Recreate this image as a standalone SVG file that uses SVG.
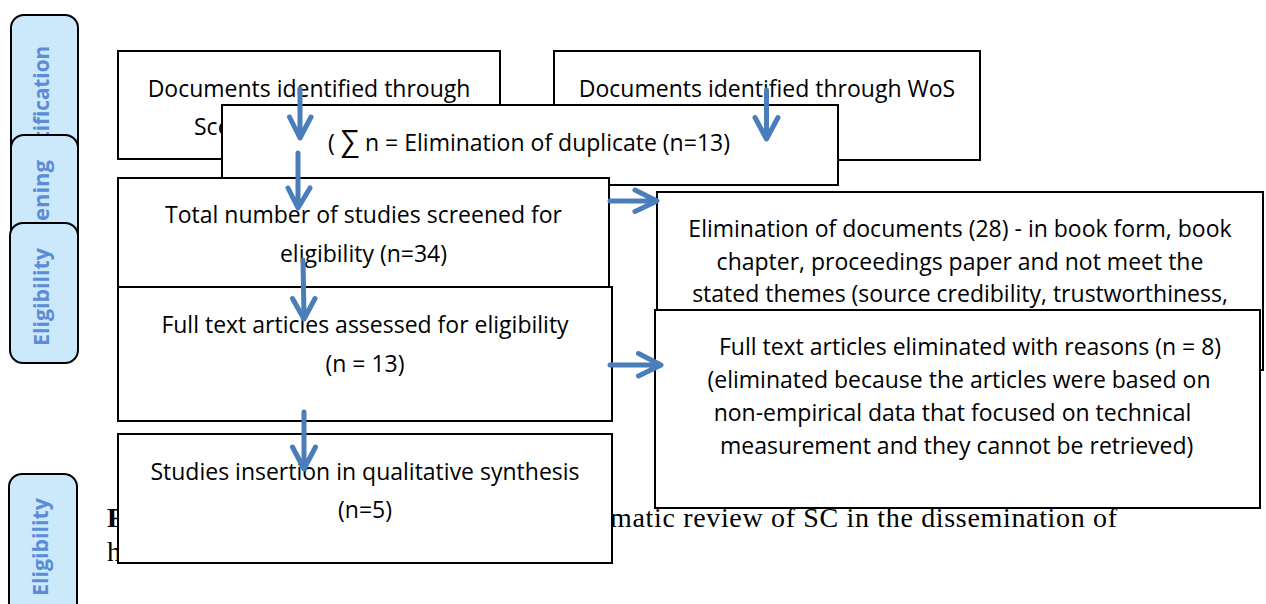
<svg xmlns="http://www.w3.org/2000/svg" width="1266" height="604" viewBox="0 0 1266 604">
<style>
.box{fill:#fff;stroke:#000;stroke-width:2}
.t{font-family:"Open Sans","DejaVu Sans",sans-serif;font-size:23px;fill:#000}
.m{text-anchor:middle}
.tab{fill:#CCE8FB;stroke:#000;stroke-width:2}
.tt{font-family:"Open Sans","DejaVu Sans",sans-serif;font-size:22px;font-weight:bold;fill:#5B8DD6;text-anchor:end}
.cap{font-family:"Liberation Serif","Times New Roman",serif;font-size:28px;fill:#000}
.arr{fill:none;stroke:#4A7EBB;stroke-width:5;stroke-linecap:round;stroke-linejoin:round}
</style>
<rect width="1266" height="604" fill="#fff"/>
<g id="tab-identification">
<rect class="tab" x="11" y="15" width="67" height="190" rx="13"/>
<text class="tt" transform="translate(49,46) rotate(-90)" textLength="140" lengthAdjust="spacingAndGlyphs">Identification</text>
</g>
<g id="tab-screening">
<rect class="tab" x="11" y="135" width="67" height="160" rx="13"/>
<text class="tt" transform="translate(49,160) rotate(-90)">Screening</text>
</g>
<g id="tab-eligibility">
<rect class="tab" x="10" y="223" width="68" height="140" rx="13"/>
<text class="tt" transform="translate(49,248) rotate(-90)" textLength="98" lengthAdjust="spacingAndGlyphs">Eligibility</text>
</g>
<g id="tab-eligibility-2">
<rect class="tab" x="9" y="474" width="68" height="150" rx="13"/>
<text class="tt" transform="translate(47.5,498) rotate(-90)" textLength="98" lengthAdjust="spacingAndGlyphs">Eligibility</text>
</g>
<g id="caption">
<text class="cap" x="107" y="527" font-weight="bold">F</text>
<text class="cap" x="610" y="527" textLength="507" lengthAdjust="spacing">matic review of SC in the dissemination of</text>
<text class="cap" x="107" y="561">h</text>
</g>
<g id="node-scopus">
<rect class="box" x="118" y="51" width="382" height="108"/>
<text class="t m" x="309" y="97">Documents identified through</text>
<text class="t" x="194" y="135">Sco</text>
</g>
<g id="node-wos">
<rect class="box" x="554" y="51" width="426" height="109"/>
<text class="t m" x="767" y="97">Documents identified through WoS</text>
</g>
<g id="node-duplicates">
<rect class="box" x="222" y="105" width="616" height="80"/>
<text class="t m" x="529" y="151">( <tspan font-size="29">∑</tspan> n = Elimination of duplicate (n=13)</text>
</g>
<g id="node-screened">
<rect class="box" x="118" y="178" width="491" height="110"/>
<text class="t m" x="363.5" y="223">Total number of studies screened for</text>
<text class="t m" x="363.5" y="261.5">eligibility (n=34)</text>
</g>
<g id="node-fulltext">
<rect class="box" x="118" y="287" width="494" height="134"/>
<text class="t m" x="365" y="333">Full text articles assessed for eligibility</text>
<text class="t m" x="365" y="371.5">(n = 13)</text>
</g>
<g id="node-included">
<rect class="box" x="118" y="434" width="494" height="129"/>
<text class="t m" x="365" y="480">Studies insertion in qualitative synthesis</text>
<text class="t m" x="365" y="518">(n=5)</text>
</g>
<g id="node-eliminated-docs">
<rect class="box" x="657" y="192" width="606" height="178"/>
<text class="t m" x="960" y="237">Elimination of documents (28) - in book form, book</text>
<text class="t m" x="960" y="270">chapter, proceedings paper and not meet the</text>
<text class="t m" x="960" y="302">stated themes (source credibility, trustworthiness,</text>
</g>
<g id="node-eliminated-fulltext">
<rect class="box" x="655" y="310" width="605" height="198"/>
<text class="t m" x="970" y="355">Full text articles eliminated with reasons (n = 8)</text>
<text class="t m" x="959" y="388">(eliminated because the articles were based on</text>
<text class="t m" x="952.5" y="421">non-empirical data that focused on technical</text>
<text class="t m" x="956.7" y="454">measurement and they cannot be retrieved)</text>
</g>
<g id="connectors">
<path class="arr" d="M300,89 V137 M289.5,117 L300,138 L311,117"/>
<path class="arr" d="M298,153 V206 M288,188 L298,208 L310,188"/>
<path class="arr" d="M303,260 L304,317 M292.5,298.5 L304,319 L315,298.5"/>
<path class="arr" d="M304,412 V467 M292.5,447 L304,469 L315.5,447"/>
<path class="arr" d="M766.5,90 V137 M755,117.5 L766.5,139 L778,117.5"/>
<path class="arr" d="M610,201 H655 M635,190 L657,201 L635,211.5"/>
<path class="arr" d="M610,365 H659 M638.5,353.5 L661,365 L638.5,376"/>
</g>
</svg>
